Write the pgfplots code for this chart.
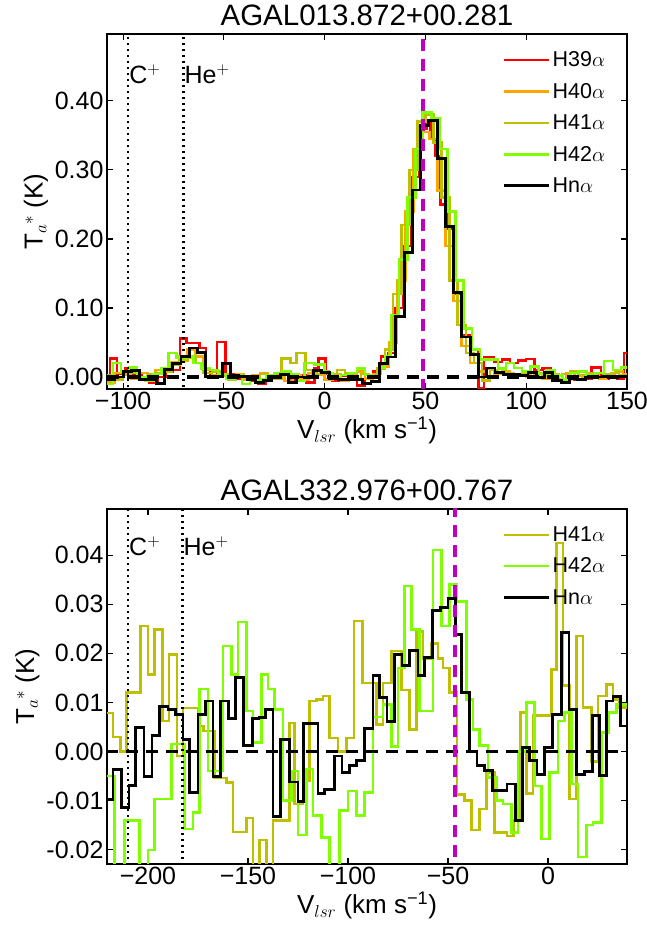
\documentclass[border=0pt]{standalone}
\usepackage{fontspec}
\setmainfont{Liberation Sans}
\usepackage{pgfplots}
\pgfplotsset{compat=1.18}
\definecolor{cred}{RGB}{255,0,0}
\definecolor{corange}{RGB}{255,165,0}
\definecolor{colive}{RGB}{191,191,0}
\definecolor{cgreen}{RGB}{127,255,0}
\definecolor{cmag}{RGB}{191,0,191}
\newcommand{\fs}[1]{\fontsize{#1}{#1}\selectfont}
\pgfplotsset{
  spec/.style={
    width=520pt, height=355pt, scale only axis,
    scaled y ticks=false, scaled x ticks=false,
    tick align=inside, major tick length=6pt,
    axis line style={line width=1.4pt},
    every tick/.style={line width=1.1pt, black},
    tick label style={font=\fs{25}},
    label style={font=\fs{26}},
    title style={font=\fs{29.5}, yshift=-1pt},
    legend style={draw=none, fill=none, at={(0.968,0.962)}, anchor=north east, font=\fs{21.5}, row sep=11pt},
    legend cell align=left,
    legend image code/.code={\draw[##1] (0pt,0pt) -- (45pt,0pt);},
    xlabel={V$_{lsr}$ (km s\textsuperscript{−1})},
    ylabel={T$_a$$^*$ (K)},
  },
  sp/.style={const plot mark left, line width=2.5pt, mark=none},
  zl/.style={forget plot, black, line width=3.2pt, dash pattern=on 12pt off 8pt},
  vl/.style={forget plot, black, line width=2.6pt, dash pattern=on 2.4pt off 3.6pt},
  ml/.style={forget plot, cmag, line width=4pt, dash pattern=on 12pt off 8pt},
}
\begin{document}
\begin{tikzpicture}
\useasboundingbox (-107pt,-66pt) rectangle (540pt,864pt);
% ---------------- top panel ----------------
\begin{axis}[spec, at={(0,475pt)}, anchor=south west,
  title={AGAL013.872+00.281},
  xmin=-108, xmax=150, ymin=-0.0174, ymax=0.497,
  xtick={-100,-50,0,50,100,150}, xticklabels={−100,−50,0,50,100,150},
  ytick={0,0.1,0.2,0.3,0.4}, yticklabels={0.00,0.10,0.20,0.30,0.40}]
\addplot[sp, cred] coordinates {(-108.2,-0.003) (-106.5,0.027) (-103.0,0.005) (-99.0,0.012) (-95.0,0.002) (-91.0,-0.004) (-87.0,-0.008) (-83.0,0.000) (-79.0,0.008) (-75.5,0.010) (-71.9,0.056) (-68.6,0.049) (-62.0,0.042) (-59.0,0.010) (-57.0,0.002) (-53.3,0.051) (-49.2,0.004) (-45.0,-0.002) (-41.0,0.001) (-37.0,-0.005) (-33.0,-0.010) (-29.0,0.000) (-25.0,-0.003) (-21.0,0.006) (-17.0,-0.004) (-13.0,0.002) (-9.0,-0.008) (-5.0,0.012) (-3.0,0.027) (0.4,0.005) (4.0,-0.006) (8.0,0.002) (12.0,-0.004) (16.0,-0.012) (20.0,-0.003) (24.0,0.008) (28.0,0.030) (31.5,0.035) (35.0,0.10) (39.0,0.19) (43.0,0.29) (47.0,0.36) (50.5,0.37) (52.5,0.345) (55.0,0.32) (57.5,0.25) (60.5,0.215) (64.0,0.12) (68.0,0.06) (72.0,0.040) (76.3,-0.016) (79.0,0.029) (84.0,0.022) (88.0,0.025) (92.0,0.020) (96.0,0.024) (100.0,0.026) (104.0,0.010) (108.0,0.012) (112.0,0.004) (116.0,-0.003) (120.0,0.000) (124.0,-0.004) (128.0,-0.002) (132.5,0.014) (137.0,-0.002) (141.0,0.001) (145.0,-0.002) (148.5,0.035) (150.1,0.035)};
\addlegendentry{H39$\alpha$}
\addplot[sp, corange] coordinates {(-108.2,-0.008) (-104,0.006) (-100,0.004) (-96,-0.002) (-92,0.006) (-88,0.000) (-84,0.010) (-80,0.012) (-76,0.022) (-72,0.030) (-68,0.040) (-64,0.030) (-60,0.010) (-56,0.002) (-52,0.004) (-48,0.000) (-44,0.004) (-40,-0.004) (-36,0.003) (-32,0.006) (-28,-0.002) (-24,0.004) (-20,-0.006) (-16,0.002) (-12,-0.004) (-8,0.006) (-4,0.003) (0,-0.004) (4,0.004) (8,-0.006) (12,0.002) (16,0.008) (20,-0.002) (24,0.004) (28,0.015) (32,0.050) (36,0.14) (40,0.24) (44,0.33) (48,0.355) (52,0.345) (56,0.27) (60,0.19) (64,0.11) (68,0.045) (72,0.020) (76,0.008) (80,0.012) (84,0.004) (88,0.008) (92,0.002) (96,0.004) (100,0.000) (104,0.006) (108,-0.002) (112,0.004) (116,-0.004) (120,0.006) (124,-0.003) (128,0.002) (132,0.005) (136,-0.002) (140,0.003) (144,0.008) (148,0.004) (150.1,0.004)};
\addlegendentry{H40$\alpha$}
\addplot[sp, colive] coordinates {(-108.2,0.002) (-104,-0.004) (-100,0.003) (-96,0.006) (-92,-0.002) (-88,0.004) (-84,0.006) (-80,0.008) (-76,0.018) (-72,0.024) (-68,0.028) (-64,0.020) (-60,0.006) (-56,0.008) (-52,0.002) (-48,-0.004) (-44,0.002) (-40,0.000) (-36,-0.004) (-32,0.004) (-28,0.002) (-24,-0.002) (-21.5,0.027) (-17,0.020) (-14,0.035) (-9.5,0.010) (-6,0.004) (-2,0.008) (2,0.003) (6,0.010) (10,0.005) (14,-0.004) (18,0.004) (22,0.002) (26,0.012) (30,0.040) (34,0.12) (38,0.22) (42,0.30) (46,0.37) (50,0.380) (54,0.34) (58,0.26) (62,0.14) (66,0.075) (70,0.035) (74,0.020) (78,-0.005) (82,0.010) (86,0.012) (90,0.006) (94,0.004) (98,0.008) (102,0.000) (106,0.005) (110,0.002) (114,-0.004) (118,0.004) (122,0.008) (126,0.002) (130,0.006) (134,0.000) (138,0.004) (142,0.006) (146,0.002) (150.1,0.002)};
\addlegendentry{H41$\alpha$}
\addplot[sp, cgreen] coordinates {(-108.2,-0.010) (-105,0.020) (-101,0.008) (-97,0.014) (-93,0.000) (-89,-0.006) (-85,0.004) (-81,0.012) (-77.5,0.035) (-73.4,0.028) (-69,0.030) (-65,0.020) (-61,0.012) (-57,0.010) (-53,0.004) (-49,-0.002) (-45,0.002) (-41,-0.010) (-37,0.001) (-33,-0.004) (-29,0.002) (-25,0.006) (-21,0.008) (-17,0.004) (-13,-0.006) (-10,0.020) (-5,0.018) (0,0.006) (4,0.000) (8,0.003) (12,0.006) (16,0.012) (20,0.003) (24,0.001) (27,0.014) (30,0.030) (33,0.09) (37,0.17) (41,0.26) (45,0.33) (48.5,0.383) (53,0.375) (57,0.33) (61,0.24) (65,0.14) (69,0.07) (73,0.04) (77,0.025) (82,0.025) (86,0.012) (90,0.020) (94,0.013) (98,0.008) (102,0.015) (106,0.004) (110,0.010) (114,0.002) (118,-0.004) (122,0.006) (126,0.008) (130,0.002) (134,0.006) (138.5,0.023) (143,0.010) (147,0.014) (150.1,0.014)};
\addlegendentry{H42$\alpha$}
\addplot[sp, black, line width=2.9pt] coordinates {(-108.2,-0.004) (-104.1,0.000) (-100.0,0.008) (-95.9,0.010) (-91.8,-0.003) (-87.7,-0.004) (-83.6,-0.009) (-79.5,0.011) (-75.4,0.020) (-71.3,0.030) (-67.2,0.042) (-63.1,0.035) (-59.0,0.000) (-54.9,0.001) (-50.8,0.019) (-46.7,0.002) (-42.6,0.001) (-38.5,-0.004) (-34.4,-0.008) (-30.3,-0.005) (-26.2,-0.001) (-22.1,0.004) (-18.0,-0.008) (-13.9,0.000) (-9.8,-0.001) (-5.7,0.009) (-1.6,0.007) (2.5,-0.002) (6.6,-0.004) (10.7,-0.003) (14.8,-0.004) (18.9,-0.010) (23.0,-0.006) (27.1,0.020) (31.2,0.029) (35.3,0.087) (39.4,0.180) (43.5,0.271) (47.6,0.365) (51.7,0.372) (55.8,0.316) (59.9,0.218) (64.0,0.122) (68.1,0.058) (72.2,0.033) (76.3,0.000) (80.4,0.013) (84.5,0.007) (88.6,0.004) (92.7,0.003) (96.8,0.002) (100.9,0.007) (105.0,-0.001) (109.1,0.007) (113.2,-0.005) (117.3,-0.008) (121.4,-0.002) (125.5,-0.003) (129.6,0.000) (133.7,0.000) (137.8,0.001) (141.9,0.001) (146.0,0.001) (150.1,0.001)};
\addlegendentry{Hn$\alpha$}
\addplot[zl] coordinates {(-108,0) (150,0)};
\addplot[vl] coordinates {(-97.5,-0.05) (-97.5,0.6)};
\addplot[vl] coordinates {(-70.1,-0.05) (-70.1,0.6)};
\addplot[ml] coordinates {(48.7,-0.05) (48.7,0.6)};
\node[anchor=west, font=\fs{25}, inner sep=1pt] at (axis cs:-97.5,0.438) {C$^+$};
\node[anchor=west, font=\fs{25}, inner sep=1pt] at (axis cs:-70.1,0.438) {He$^+$};
\end{axis}
% ---------------- bottom panel ----------------
\begin{axis}[spec, at={(0,0)}, anchor=south west,
  title={AGAL332.976+00.767},
  xmin=-220.5, xmax=39.5, ymin=-0.0229, ymax=0.0494,
  xtick={-200,-150,-100,-50,0}, xticklabels={−200,−150,−100,−50,0},
  ytick={-0.02,-0.01,0,0.01,0.02,0.03,0.04}, yticklabels={-0.02,-0.01,0.00,0.01,0.02,0.03,0.04}]
\addplot[sp, colive] coordinates {(-220.5,0.0079) (-217.5,0.0030) (-213.8,0.0000) (-210.8,0.0120) (-203.8,0.0256) (-200.0,0.0157) (-196.7,0.0249) (-192.8,0.0062) (-189.5,0.0198) (-185.5,-0.0009) (-182.5,0.0089) (-175.0,0.0052) (-172.2,0.0042) (-166.7,-0.0054) (-160.8,-0.0063) (-157.5,-0.0164) (-150.8,-0.0135) (-147.5,-0.0250) (-144.2,-0.0180) (-140.8,-0.0300) (-137.5,-0.0140) (-133.7,-0.0140) (-129.2,0.0058) (-126.8,-0.0107) (-122.5,-0.0060) (-119.2,0.0103) (-115.8,0.0106) (-112.5,0.0113) (-109.2,0.0028) (-105.0,0.0000) (-100.8,0.0028) (-97.0,0.0266) (-92.8,0.0140) (-89.2,0.0140) (-85.8,0.0055) (-82.5,0.0140) (-78.3,0.0205) (-73.3,0.0125) (-69.2,0.0045) (-65.8,0.0245) (-62.5,0.0190) (-58.3,0.0220) (-55.0,0.0190) (-52.5,0.0170) (-49.2,0.0120) (-45.5,-0.0087) (-41.7,-0.0100) (-38.3,-0.0160) (-34.2,-0.0117) (-30.8,-0.0043) (-26.7,-0.0165) (-20.5,-0.0172) (-17.2,-0.0140) (-13.8,0.0080) (-10.8,-0.0085) (-7.5,0.0073) (1.7,0.0167) (4.2,0.0425) (7.5,0.0135) (10.8,-0.0097) (14.2,0.0235) (17.5,0.0090) (21.7,-0.0020) (25.0,0.0113) (29.2,0.0137) (32.5,0.0106) (35.8,0.0090) (40,0.0090)};
\addlegendentry{H41$\alpha$}
\addplot[sp, cgreen] coordinates {(-220.5,-0.0050) (-216.7,-0.0300) (-211.7,-0.0140) (-204.2,-0.0300) (-200.0,-0.0200) (-196.7,-0.0097) (-188.3,0.0015) (-181.7,-0.0158) (-177.5,-0.0124) (-174.2,0.0127) (-170.0,-0.0040) (-162.5,0.0215) (-158.3,0.0157) (-155.0,0.0264) (-150.8,0.0083) (-147.5,0.0018) (-143.3,0.0157) (-140.0,0.0127) (-136.7,0.0086) (-132.5,-0.0100) (-128.3,-0.0040) (-125.0,-0.0170) (-120.8,-0.0036) (-117.5,-0.0130) (-113.3,-0.0175) (-109.2,-0.0300) (-104.2,-0.0120) (-100.0,-0.0080) (-95.8,-0.0130) (-91.7,-0.0083) (-87.5,0.0070) (-82.5,0.0096) (-78.3,0.0010) (-75.0,0.0170) (-71.7,0.0337) (-68.3,0.0249) (-64.2,0.0083) (-57.5,0.0410) (-53.3,0.0256) (-49.2,0.0340) (-45.5,0.0306) (-40.8,0.0106) (-37.5,0.0045) (-34.2,0.0012) (-30.0,-0.0053) (-25.8,-0.0100) (-22.5,-0.0107) (-18.3,-0.0165) (-15.0,0.0000) (-10.8,0.0100) (-6.7,-0.0070) (-3.3,-0.0178) (0.8,-0.0043) (5.0,0.0062) (8.3,0.0080) (11.7,-0.0066) (15.0,-0.0215) (19.2,-0.0150) (22.5,-0.0144) (26.7,0.0039) (30.5,0.0080) (34.2,0.0096) (40,0.0096)};
\addlegendentry{H42$\alpha$}
\addplot[sp, black, line width=2.9pt] coordinates {(-220.5,-0.0097) (-217.5,-0.0036) (-213.3,-0.0114) (-209.5,-0.0070) (-206.2,0.0049) (-202.0,-0.0050) (-198.0,0.0032) (-194.2,0.0092) (-190.0,0.0085) (-186.2,0.0076) (-182.5,0.0024) (-179.2,-0.0083) (-175.0,0.0076) (-171.2,0.0103) (-167.5,-0.0051) (-163.8,0.0103) (-159.7,0.0067) (-156.2,0.0151) (-152.2,0.0013) (-147.8,0.0067) (-144.5,0.0069) (-141.3,0.0085) (-137.5,-0.0132) (-133.7,0.0025) (-129.2,-0.0062) (-125.0,-0.0102) (-122.2,0.0058) (-118.6,0.0058) (-115.0,-0.0085) (-111.7,-0.0078) (-106.7,-0.0009) (-103.0,-0.0043) (-99.2,-0.0029) (-95.8,-0.0019) (-91.7,0.0047) (-87.5,0.0154) (-84.2,0.0110) (-80.5,0.0062) (-76.7,0.0198) (-73.0,0.0176) (-69.2,0.0205) (-65.0,0.0154) (-61.7,0.0191) (-57.8,0.0288) (-53.7,0.0294) (-50.0,0.0312) (-46.2,0.0239) (-43.3,0.0121) (-39.2,0.0000) (-35.5,-0.0029) (-31.7,-0.0039) (-27.8,-0.0080) (-23.8,-0.0080) (-20.5,-0.0066) (-16.3,-0.0141) (-12.8,0.0008) (-9.2,-0.0019) (-5.5,-0.0046) (-1.6,0.0008) (2.2,0.0076) (6.7,0.0243) (10.5,0.0085) (14.2,-0.0046) (18.3,-0.0041) (22.2,0.0073) (25.8,-0.0049) (29.2,0.0103) (32.5,0.0113) (36.2,0.0052) (40,0.0052)};
\addlegendentry{Hn$\alpha$}
\addplot[zl] coordinates {(-221,0) (40,0)};
\addplot[vl] coordinates {(-210,-0.05) (-210,0.06)};
\addplot[vl] coordinates {(-182.8,-0.05) (-182.8,0.06)};
\addplot[ml] coordinates {(-46.7,-0.05) (-46.7,0.06)};
\node[anchor=west, font=\fs{25}, inner sep=1pt] at (axis cs:-210,0.0418) {C$^+$};
\node[anchor=west, font=\fs{25}, inner sep=1pt] at (axis cs:-182.8,0.0418) {He$^+$};
\end{axis}
\end{tikzpicture}
\end{document}
